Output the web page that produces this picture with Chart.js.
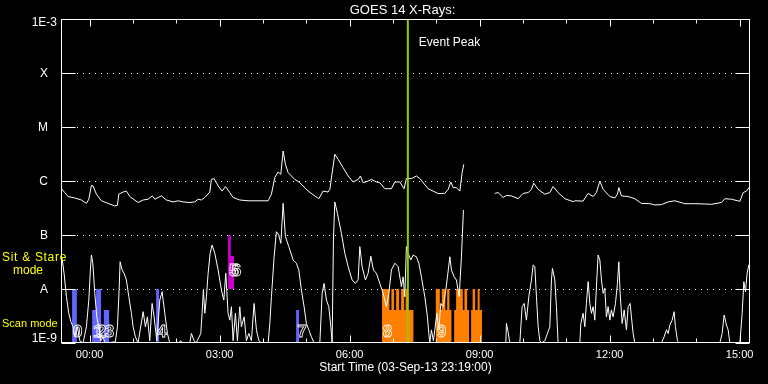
<!DOCTYPE html>
<html>
<head>
<meta charset="utf-8">
<script src="https://cdn.jsdelivr.net/npm/chart.js@4.4.0/dist/chart.umd.min.js"></script>
<style>
  html, body { margin: 0; padding: 0; background: #000; }
  canvas { display: block; }
</style>
</head>
<body>
<canvas id="goesChart" width="768" height="384"></canvas>
<script>
// time axis in hours from 04-Sep 00:00 (plot starts 03-Sep 23:19)
const xMin = -0.66;
const xMax = 15.24;
const hourTicks = [0, 1, 2, 3, 4, 5, 6, 7, 8, 9, 10, 11, 12, 13, 14, 15];
const hourLabels = ["00:00", "03:00", "06:00", "09:00", "12:00", "15:00"];
const hourLabelAt = [0, 3, 6, 9, 12, 15];

const yTickValues = [1e-9, 1e-8, 1e-7, 1e-6, 1e-5, 1e-4, 1e-3];
const yTickLabels = ["1E-9", "A", "B", "C", "M", "X", "1E-3"];

// [hour, flux W/m2] - long channel (1-8 A)
const longFlux = [
  [-0.651,7.2e-7],[-0.572,6.1e-7],[-0.496,5.15e-7],[-0.342,4.85e-7],[-0.189,4.45e-7],[-0.074,3.85e-7],
  [-0.018,4.6e-7],[0.042,8.3e-7],[0.081,8.1e-7],[0.157,5.7e-7],[0.272,4.3e-7],[0.427,3.85e-7],
  [0.582,3.45e-7],[0.642,3.55e-7],[0.674,5.7e-7],[0.773,6.25e-7],[0.849,6.5e-7],[0.928,5.15e-7],
  [1.119,4.0e-7],[1.235,4.45e-7],[1.350,4.6e-7],[1.449,5.3e-7],[1.505,4.6e-7],[1.657,5.3e-7],
  [1.772,4.45e-7],[1.927,4.1e-7],[2.042,4.3e-7],[2.158,4.1e-7],[2.312,4.0e-7],[2.428,4.1e-7],
  [2.504,4.6e-7],[2.580,4.45e-7],[2.659,4.95e-7],[2.774,6.25e-7],[2.811,1.07e-6],[2.873,1.11e-6],
  [2.966,8.1e-7],[3.058,6.5e-7],[3.134,7.9e-7],[3.236,6.1e-7],[3.312,4.95e-7],[3.466,4.45e-7],
  [3.658,4.3e-7],[3.889,4.3e-7],[4.120,4.3e-7],[4.196,5.7e-7],[4.274,1.16e-6],[4.350,1.47e-6],
  [4.413,1.33e-6],[4.466,3.59e-6],[4.519,2.04e-6],[4.581,1.43e-6],[4.736,1.07e-6],[4.851,9.3e-7],
  [5.043,6.5e-7],[5.197,5.3e-7],[5.290,4.7e-7],[5.389,6.5e-7],[5.504,6.25e-7],[5.544,7.0e-7],
  [5.620,1.9e-6],[5.659,3.12e-6],[5.735,2.52e-6],[5.850,1.77e-6],[5.966,1.24e-6],[6.081,9.6e-7],
  [6.197,1.07e-6],[6.250,1.24e-6],[6.312,9.3e-7],[6.427,1.0e-6],[6.504,1.07e-6],[6.619,9.6e-7],
  [6.697,9.3e-7],[6.813,7.2e-7],[6.965,7.2e-7],[7.044,9.6e-7],[7.159,9.6e-7],[7.258,7.2e-7],
  [7.311,1.11e-6],[7.427,1.11e-6],[7.542,1.24e-6],[7.621,1.11e-6],[7.812,7.2e-7],[8.043,5.85e-7],
  [8.198,5.9e-7],[8.274,7.0e-7],[8.336,9.6e-7],[8.389,7.55e-7],[8.465,7.55e-7],[8.544,6.5e-7],
  [8.597,1.43e-6],[8.636,2.04e-6],[9.0,null],[9.351,5.9e-7],[9.428,6.1e-7],[9.543,4.95e-7],
  [9.619,5.4e-7],[9.735,5.3e-7],[9.889,4.7e-7],[10.005,5.9e-7],[10.120,6.1e-7],[10.196,7.0e-7],
  [10.251,9.1e-7],[10.351,7.0e-7],[10.505,5.7e-7],[10.621,6.1e-7],[10.697,7.9e-7],[10.812,6.1e-7],
  [10.967,4.7e-7],[11.158,4.15e-7],[11.198,4.3e-7],[11.389,4.25e-7],[11.505,5.9e-7],[11.620,5.15e-7],
  [11.696,6.1e-7],[11.775,1.0e-6],[11.851,7.0e-7],[12.006,5.15e-7],[12.121,4.85e-7],[12.181,5.7e-7],
  [12.213,7.55e-7],[12.273,5.3e-7],[12.428,5.15e-7],[12.582,4.7e-7],[12.735,3.85e-7],[12.929,3.8e-7],
  [13.044,3.6e-7],[13.196,3.65e-7],[13.351,4.1e-7],[13.506,4.3e-7],[13.736,3.8e-7],[13.967,3.8e-7],
  [14.198,3.75e-7],[14.350,3.7e-7],[14.581,4.0e-7],[14.660,4.7e-7],[14.812,4.6e-7],[15.006,4.2e-7],
  [15.082,6.1e-7],[15.158,6.5e-7],[15.237,7.9e-7]
];

// [hour, flux W/m2] - short channel (0.5-4 A)
const shortFlux = [
  [-0.635,3.7e-8],[-0.589,1.95e-8],[-0.535,7.2e-9],[-0.480,3.55e-9],[-0.434,2.5e-9],[-0.381,2.0e-9],
  [-0.342,1.3e-9],[-0.282,2.0e-9],[-0.226,1.1e-9],[-0.150,1e-9],[-0.074,2.0e-9],[-0.018,6.25e-9],
  [0.018,2.25e-8],[0.042,4.25e-8],[0.074,3.0e-8],[0.120,8.3e-9],[0.166,3.05e-9],[0.212,2.0e-9],
  [0.258,1.1e-9],[0.312,1.3e-9],[0.351,1e-9],[0.595,1.05e-9],[0.642,2.0e-9],[0.681,9.6e-9],
  [0.704,3.2e-8],[0.750,2.25e-8],[0.796,1.95e-8],[0.849,1.47e-8],[0.905,7.2e-9],[0.965,3.55e-9],
  [1.004,2.0e-9],[1.057,1.3e-9],[1.119,1e-9],[1.235,3.8e-9],[1.288,2.0e-9],[1.334,3.05e-9],
  [1.389,1.1e-9],[1.442,5.4e-9],[1.489,3.05e-9],[1.551,1.1e-9],[1.620,6.25e-9],[1.673,8.9e-9],
  [1.736,3.55e-9],[1.796,1.5e-9],[1.851,1e-9],[2.042,1e-9],[2.105,1.1e-9],[2.135,1e-9],
  [2.312,1e-9],[2.349,1.5e-9],[2.412,1.1e-9],[2.458,1e-9],[2.566,1.5e-9],[2.596,3.55e-9],
  [2.626,9.6e-9],[2.659,3.55e-9],[2.696,7.2e-9],[2.735,1.95e-8],[2.781,4.6e-8],[2.827,6.5e-8],
  [2.889,4.6e-8],[2.966,2.25e-8],[3.042,9.6e-9],[3.097,6.25e-9],[3.143,1.95e-8],[3.196,3.55e-9],
  [3.236,2.65e-9],[3.273,4.7e-9],[3.312,1.1e-9],[3.365,3.55e-9],[3.411,1.1e-9],[3.466,4.7e-9],
  [3.503,2.0e-9],[3.566,3.05e-9],[3.619,1.1e-9],[3.674,1.5e-9],[3.734,1.1e-9],[3.796,5.4e-9],
  [3.850,1.75e-9],[3.905,1.1e-9],[3.965,1e-9],[4.120,1e-9],[4.159,2.3e-9],[4.196,7.2e-9],
  [4.258,3.95e-8],[4.311,1.15e-7],[4.366,1.0e-7],[4.413,7.0e-8],[4.466,3.85e-7],[4.519,9.3e-8],
  [4.597,6.1e-8],[4.697,3.45e-8],[4.773,3.0e-8],[4.828,2.25e-8],[4.888,9.6e-9],[4.950,4.7e-9],
  [5.003,2.3e-9],[5.059,1.75e-9],[5.119,1.3e-9],[5.181,1e-9],[5.313,1e-9],[5.366,8.3e-9],
  [5.412,1.27e-8],[5.465,6.25e-9],[5.520,4.7e-9],[5.567,2.0e-9],[5.597,1e-9],[5.627,8.1e-8],
  [5.659,4.1e-7],[5.719,2.5e-7],[5.811,1.07e-7],[5.890,4.6e-8],[5.966,2.6e-8],[6.058,1.47e-8],
  [6.134,1.27e-8],[6.197,1.47e-8],[6.236,6.1e-8],[6.289,2.6e-8],[6.365,1.47e-8],[6.427,1.95e-8],
  [6.490,4.05e-8],[6.550,2.25e-8],[6.619,1.95e-8],[6.697,1.27e-8],[6.774,8.3e-9],[6.850,4.7e-9],
  [6.906,8.3e-9],[6.965,2.25e-8],[7.044,3.0e-8],[7.120,2.6e-8],[7.196,1.1e-8],[7.235,1.68e-8],
  [7.274,7.2e-9],[7.311,6.1e-8],[7.350,4.6e-8],[7.413,3.45e-8],[7.466,4.25e-8],[7.542,3.95e-8],
  [7.597,3.0e-8],[7.657,1.68e-8],[7.736,7.2e-9],[7.796,3.05e-9],[7.828,1.5e-9],[7.851,1e-9],
  [7.888,1.75e-9],[7.934,1.1e-9],[7.967,1.75e-9],[8.013,3.55e-9],[8.059,1.75e-9],[8.105,5.4e-9],
  [8.158,4.7e-9],[8.211,8.3e-9],[8.258,1.68e-8],[8.313,3.95e-8],[8.350,2.25e-8],[8.412,1.68e-8],
  [8.465,1.47e-8],[8.528,7.2e-9],[8.581,3.95e-8],[8.627,2.9e-7],[9.0,null],[9.351,1e-9],
  [9.605,1e-9],[9.619,2.3e-9],[9.658,1.6e-9],[9.697,1e-9],[9.928,1e-9],[9.981,4.7e-9],
  [10.028,5.4e-9],[10.081,2.65e-9],[10.136,7.2e-9],[10.196,1.47e-8],[10.235,2.8e-8],[10.274,2.6e-8],
  [10.312,7.2e-9],[10.351,2.0e-9],[10.390,1.1e-9],[10.428,1e-9],[10.505,1.1e-9],[10.621,2.0e-9],
  [10.658,1.47e-8],[10.681,2.4e-8],[10.736,1.47e-8],[10.773,4.7e-9],[10.812,1e-9],[11.313,1e-9],
  [11.336,2.3e-9],[11.389,3.55e-9],[11.428,2.0e-9],[11.465,5.4e-9],[11.505,1.37e-8],[11.544,5.4e-9],
  [11.581,3.55e-9],[11.620,4.7e-9],[11.659,2.65e-9],[11.696,1.1e-8],[11.735,4.25e-8],[11.775,3.45e-8],
  [11.812,1.47e-8],[11.851,8.3e-9],[11.889,1.03e-8],[11.927,3.05e-9],[11.966,4.7e-9],[12.006,2.65e-9],
  [12.042,4.1e-9],[12.081,3.05e-9],[12.135,5.4e-9],[12.181,1.27e-8],[12.213,3.2e-8],[12.243,8.3e-9],
  [12.290,2.3e-9],[12.336,4.1e-9],[12.389,1.75e-9],[12.428,4.7e-9],[12.474,5.4e-9],[12.504,3.05e-9],
  [12.543,1.5e-9],[12.582,1e-9],[13.196,1e-9],[13.258,1.3e-9],[13.312,1.75e-9],[13.351,1.5e-9],
  [13.390,2.15e-9],[13.443,2.65e-9],[13.489,3.8e-9],[13.519,2.0e-9],[13.566,1.1e-9],[13.605,1e-9],
  [14.544,1e-9],[14.597,1.5e-9],[14.643,3.3e-9],[14.697,2.15e-9],[14.736,1.75e-9],[14.775,1e-9],
  [15.006,1e-9],[15.059,3.55e-9],[15.098,1.37e-8],[15.135,8.9e-9],[15.174,1.95e-8],[15.213,2.8e-8],
  [15.243,2.6e-8]
];

// observing bars: [start hour, end hour, top flux]
const scanBars = [
  [-0.404,-0.295,1e-8],[0.058,0.150,4.1e-9],[0.150,0.265,1e-8],
  [0.328,0.450,4.1e-9],[1.535,1.604,1e-8],[4.766,4.835,4.1e-9]
];
const stareBars = [[3.196,3.258,1e-7],[3.258,3.335,4.1e-8]];
const eventBars = [
  [6.744,6.919,1e-8],[6.919,6.965,4.1e-9],[6.965,7.027,1e-8],[7.027,7.074,4.1e-9],
  [7.074,7.143,1e-8],[7.143,7.189,4.1e-9],[7.189,7.259,1e-8],[7.259,7.293,4.1e-9],
  [7.293,7.339,1e-8],[7.339,7.473,4.1e-9],
  [7.990,8.082,1e-8],[8.082,8.128,4.1e-9],[8.128,8.211,1e-8],[8.211,8.251,4.1e-9],
  [8.251,8.304,1e-8],[8.304,8.350,4.1e-9],[8.412,8.458,4.1e-9],[8.458,8.613,1e-8],
  [8.613,8.650,4.1e-9],[8.650,8.712,1e-8],[8.712,8.758,4.1e-9],[8.804,8.839,4.1e-9],
  [8.839,8.897,1e-8],[8.897,8.955,4.1e-9],[8.955,9.001,1e-8],[9.001,9.058,4.1e-9]
];
const scanBase = 1e-9;
const stareBase = 1e-8;

// bar numbers: [text, hour, flux]
const barNumbers = [
  ["0",-0.404,1.55e-9],["1",0.058,1.55e-9],["2",0.150,1.55e-9],["3",0.328,1.55e-9],
  ["4",1.535,1.55e-9],["5",3.196,2.1e-8],["6",3.258,2.1e-8],["7",4.766,1.55e-9],
  ["8",6.744,1.55e-9],["9",7.990,1.55e-9]
];

const eventPeakHour = 7.344;

// bars of one colour -> one stepped line filled down to its base
function barSet(bars, base, color) {
  const pts = [];
  bars.forEach(([t0, t1, top], i) => {
    pts.push({ x: t0, y: top });
    const next = bars[i + 1];
    if (!next || Math.abs(next[0] - t1) > 1e-6) pts.push({ x: t1, y: base });
  });
  return {
    type: "line",
    data: pts,
    stepped: "before",
    borderColor: "rgba(0,0,0,0)",
    borderWidth: 0,
    backgroundColor: color,
    fill: { value: base },
    pointRadius: 0,
    order: 1,
  };
}

function curveSet(points) {
  return {
    type: "line",
    data: points.map(([t, f]) => ({ x: t, y: f })),
    borderColor: "#ffffff",
    borderWidth: 1,
    pointRadius: 0,
    tension: 0,
    fill: false,
    spanGaps: false,
    order: 0,
  };
}

const datasets = [
  curveSet(longFlux),
  curveSet(shortFlux),
  barSet(scanBars, scanBase, "#6464ff"),
  barSet(stareBars, stareBase, "#cc00cc"),
  barSet(eventBars, scanBase, "#ff8000"),
];

const frame = {
  id: "frame",
  beforeDraw(chart) {
    const ctx = chart.ctx;
    ctx.save();
    ctx.fillStyle = "#000";
    ctx.fillRect(0, 0, chart.width, chart.height);
    ctx.restore();
  },
  beforeDatasetsDraw(chart) {
    const { ctx, chartArea: a, scales } = chart;
    ctx.save();
    ctx.strokeStyle = "#fff";
    ctx.lineWidth = 1;
    ctx.setLineDash([1, 5]);
    yTickValues.slice(1, -1).forEach((v) => {
      const y = Math.round(scales.y.getPixelForValue(v)) + 0.5;
      ctx.beginPath();
      ctx.moveTo(a.left + 16, y);
      ctx.lineTo(a.right - 14, y);
      ctx.stroke();
    });
    ctx.restore();
  },
  afterDatasetsDraw(chart) {
    const { ctx, chartArea: a, scales } = chart;
    const x = scales.x, y = scales.y;
    ctx.save();

    // bar numbers (hollow digits)
    ctx.strokeStyle = "#fff";
    ctx.lineWidth = 0.8;
    ctx.font = "bold 17px 'Liberation Sans'";
    ctx.textAlign = "left";
    ctx.textBaseline = "middle";
    barNumbers.forEach(([txt, t, f]) => {
      ctx.strokeText(txt, x.getPixelForValue(t) + 1, y.getPixelForValue(f));
    });

    // event peak line
    const px = x.getPixelForValue(eventPeakHour);
    ctx.strokeStyle = "#96c800";
    ctx.lineWidth = 2;
    ctx.beginPath();
    ctx.moveTo(px, a.top);
    ctx.lineTo(px, a.bottom);
    ctx.stroke();
    ctx.fillStyle = "#fff";
    ctx.font = "12px 'Liberation Sans'";
    ctx.fillText("Event Peak", px + 11, a.top + 24);

    // box
    ctx.strokeStyle = "#fff";
    ctx.lineWidth = 1;
    const L = Math.round(a.left) + 0.5, R = Math.round(a.right) - 0.5;
    const T = Math.round(a.top) + 0.5, B = Math.round(a.bottom) - 0.5;
    ctx.strokeRect(L, T, R - L, B - T);

    // y ticks + labels
    yTickValues.forEach((v, i) => {
      const py = Math.round(y.getPixelForValue(v)) + 0.5;
      ctx.beginPath();
      ctx.moveTo(L, py); ctx.lineTo(L + 14, py);
      ctx.moveTo(R - 14, py); ctx.lineTo(R, py);
      ctx.stroke();
      const lab = yTickLabels[i];
      const ly = Math.min(Math.max(py, a.top + 4), a.bottom - 4);
      ctx.textAlign = "right";
      ctx.fillText(lab, lab.length > 1 ? 57 : 48, ly);
    });

    // x ticks + labels
    hourTicks.forEach((h) => {
      const p = Math.round(x.getPixelForValue(h)) + 0.5;
      const len = h % 3 === 0 ? 7 : 4;
      ctx.beginPath();
      ctx.moveTo(p, T); ctx.lineTo(p, T + len);
      ctx.moveTo(p, B); ctx.lineTo(p, B - len);
      ctx.stroke();
    });
    ctx.font = "11px 'Liberation Sans'";
    ctx.textAlign = "center";
    hourLabelAt.forEach((h, i) => {
      ctx.fillText(hourLabels[i], x.getPixelForValue(h), a.bottom + 12);
    });

    // titles
    const cx = (a.left + a.right) / 2;
    ctx.font = "12px 'Liberation Sans'";
    ctx.fillText("Start Time (03-Sep-13 23:19:00)", cx, a.bottom + 25);
    ctx.font = "13px 'Liberation Sans'";
    ctx.fillText("GOES 14 X-Rays:", cx - 3, 10);

    // mode labels
    ctx.fillStyle = "#ffff00";
    ctx.textAlign = "left";
    ctx.font = "12px 'Liberation Sans'";
    ctx.letterSpacing = "0.7px";
    ctx.fillText("Sit & Stare", 2, 258);
    ctx.letterSpacing = "0px";
    ctx.fillText("mode", 13, 271);
    ctx.font = "11px 'Liberation Sans'";
    ctx.fillText("Scan mode", 2, 324);

    ctx.restore();
  },
};

try {
  new Chart(document.getElementById("goesChart").getContext("2d"), {
    type: "line",
    data: { datasets },
    options: {
      responsive: false,
      animation: false,
      events: [],
      layout: { padding: { left: 61, top: 19, right: 18, bottom: 41 } },
      scales: {
        x: { type: "linear", min: xMin, max: xMax, display: false },
        y: { type: "logarithmic", min: 1e-9, max: 1e-3, display: false },
      },
      plugins: { legend: { display: false }, tooltip: { enabled: false } },
    },
    plugins: [frame],
  });
} catch (e) {
  console.error("chart error:", e);
}
</script>
</body>
</html>
